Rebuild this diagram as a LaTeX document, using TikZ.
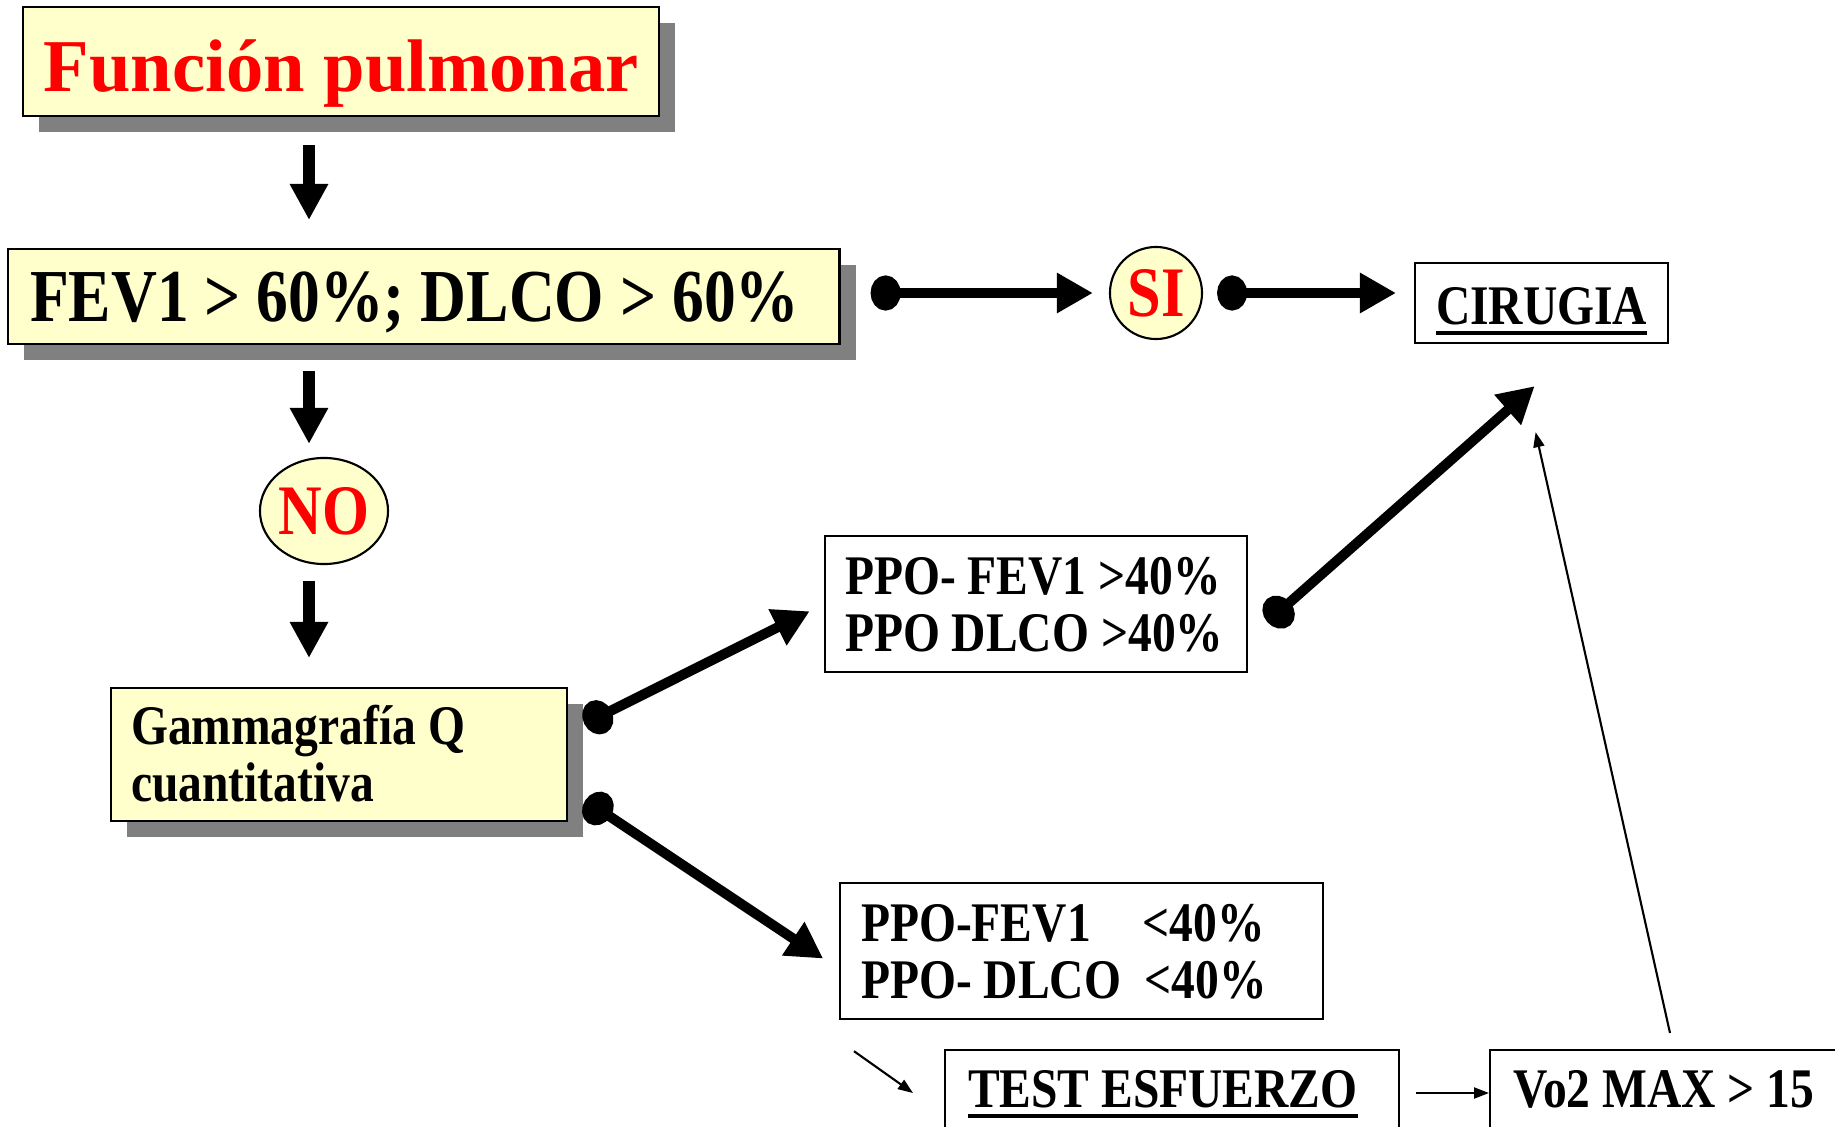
\documentclass[tikz,border=0pt]{standalone}
\usepackage{fontspec}
\setmainfont{Liberation Serif}
\newfontfamily\narrowserif[FakeStretch=0.85]{Liberation Serif}
\usepackage{xcolor}
\usetikzlibrary{positioning, arrows.meta, shapes.geometric, shadows}
\definecolor{paleyellow}{HTML}{FFFFCC}
\definecolor{shadowgray}{HTML}{808080}
\newsavebox\ulbox
\newcommand{\fatul}[1]{\sbox\ulbox{#1}\rlap{\rule[-3.2pt]{\wd\ulbox}{1.1pt}}\usebox\ulbox}

\begin{document}
\begin{tikzpicture}[x=0.01cm, y=-0.01cm,
    yellowbox/.style={rectangle, draw, line width=0.6pt, fill=paleyellow, anchor=north west, inner ysep=0pt,
      general shadow={fill=shadowgray, shadow xshift=0.16cm, shadow yshift=-0.16cm}},
    whitebox/.style={rectangle, draw, line width=0.6pt, fill=white, anchor=north west, inner ysep=0pt},
    answer/.style={ellipse, draw, line width=0.6pt, fill=paleyellow, inner sep=0pt, text=red,
      font=\narrowserif\bfseries\fontsize{20.2}{22}\selectfont},
    bodyfont/.style={font=\narrowserif\bfseries\fontsize{15.9}{16.2}\selectfont},
    fatarrow/.style={line width=0.11cm, -{Triangle[length=0.36cm, width=0.36cm]}},
    dotarrow/.style={line width=0.10cm, {Circle[length=0.30cm, width=0.35cm]}-{Triangle[length=0.36cm, width=0.38cm]}},
    thinarrow/.style={line width=0.6pt, -{Triangle[length=0.15cm, width=0.11cm]}}]
  \useasboundingbox (0,0) rectangle (1835,1127);
  % Yellow boxes with shadow
  \node[yellowbox, text width=6.36cm, inner xsep=0pt, align=flush center, text height=0.84cm, text depth=0.25cm, text=red, font=\bfseries\fontsize{21.2}{24}\selectfont] (title) at (22,6) {Función pulmonar};
  \node[yellowbox, text width=7.87cm, inner xsep=0.22cm, align=flush left, text height=0.72cm, text depth=0.23cm, font=\narrowserif\bfseries\fontsize{21.25}{24}\selectfont] (fev) at (7,248) {\mbox{FEV1 > 60\%; DLCO > 60\%}};
  \node[yellowbox, bodyfont, text width=4.16cm, inner xsep=0.20cm, align=flush left, text height=0.56cm, text depth=0.77cm] (gamma) at (110,687) {\mbox{Gammagrafía Q}\\cuantitativa};
  % SI / NO
  \node[answer, minimum width=0.92cm, minimum height=0.92cm] (si) at (1156,293) {SI};
  \node[answer, minimum width=1.21cm, minimum height=1.06cm] (no) at (324,511) {NO};
  % Plain boxes
  \node[whitebox, bodyfont, text width=2.33cm, inner xsep=0.10cm, align=flush center, text height=0.61cm, text depth=0.19cm] (cir) at (1414,262) {\fatul{CIRUGIA}};
  \node[whitebox, bodyfont, text width=3.82cm, inner xsep=0.20cm, align=flush left, text height=0.58cm, text depth=0.78cm] (ppohi) at (824,535) {\mbox{PPO- FEV1 >40\%}\\\mbox{PPO DLCO >40\%}};
  \node[whitebox, bodyfont, text width=4.41cm, inner xsep=0.21cm, align=flush left, text height=0.58cm, text depth=0.78cm] (ppolo) at (839,882) {\mbox{PPO-FEV1\hspace{0.52cm}<40\%}\\\mbox{PPO- DLCO~~<40\%}};
  \node[whitebox, bodyfont, text width=4.08cm, inner xsep=0.23cm, align=flush left, text height=0.57cm, text depth=1.0cm] (test) at (944,1049) {\fatul{TEST ESFUERZO}};
  \node[whitebox, bodyfont, text width=3.40cm, inner xsep=0.23cm, align=flush left, text height=0.57cm, text depth=1.0cm] (vo2) at (1489,1049) {\mbox{Vo2 MAX > 15}};
  % Arrows down the left column
  \coordinate (col) at (309,0);
  \draw[fatarrow, shorten <=0.28cm, shorten >=0.28cm] (title.south -| col) -- (fev.north -| col);
  \draw[fatarrow, shorten <=0.26cm, shorten >=0.13cm] (fev.south -| col) -- (no.north -| col);
  \draw[fatarrow, shorten <=0.16cm, shorten >=0.29cm] (no.south -| col) -- (gamma.north -| col);
  % Arrows with dots
  \draw[dotarrow, shorten <=0.30cm, shorten >=0.16cm] (fev.east |- si) -- (si.west);
  \draw[dotarrow, shorten <=0.14cm, shorten >=0.18cm] (si.east) -- (cir.west |- si);
  \draw[dotarrow, shorten >=0.16cm] ([shift={(16,37)}]gamma.north east) -- (ppohi.west);
  \draw[dotarrow, shorten >=0.19cm] ([shift={(17,-22)}]gamma.south east) -- ([shift={(0,18)}]ppolo.west);
  \draw[dotarrow] ([shift={(19,18)}]ppohi.east) -- ([shift={(-7,42)}]cir.south);
  % Thin arrows
  \draw[thinarrow] ([shift={(15,31)}]ppolo.south west) -- ([shift={(-31,44)}]test.north west);
  \draw[thinarrow] ([shift={(16,44)}]test.north east) -- ([shift={(0,44)}]vo2.north west);
  \draw[thinarrow] ([shift={(181,-16)}]vo2.north west) -- ([shift={(-6,88)}]cir.south);
\end{tikzpicture}
\end{document}
